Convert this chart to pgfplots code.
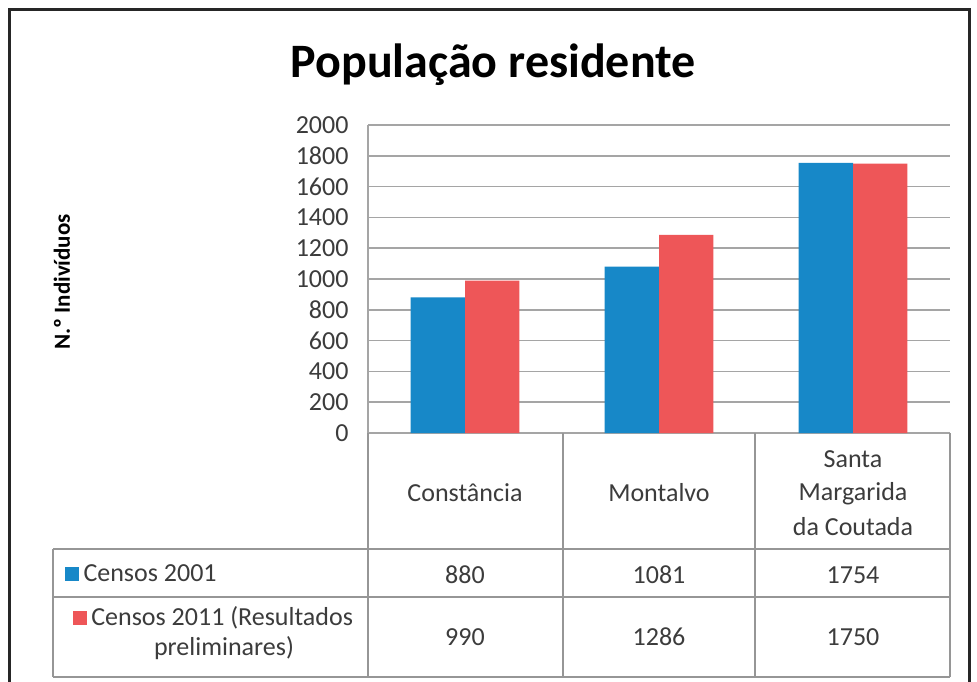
\documentclass[border=0pt]{standalone}
\usepackage{pgfplots}
\pgfplotsset{compat=1.18}
\usepackage{fontspec}
\setmainfont{Carlito}
\definecolor{cblue}{RGB}{23,136,200}
\definecolor{cred}{RGB}{238,86,88}
\definecolor{gridc}{RGB}{165,165,165}
\definecolor{tblc}{RGB}{150,150,150}
\definecolor{txt}{RGB}{60,60,60}
\newcommand\tf{\fontsize{26}{30}\selectfont\color{txt}}
\begin{document}
\begin{tikzpicture}
\useasboundingbox (0,0) rectangle (977pt,-682pt);
\fill[white] (0,0) rectangle (977pt,-682pt);
\draw[line width=3pt, black!85] (9pt,-700pt) -- (9pt,-10pt) -- (969pt,-10pt) -- (969pt,-700pt);
\begin{axis}[at={(368pt,-433pt)}, anchor=south west, scale only axis,
  width=582pt, height=308pt,
  xmin=-0.5, xmax=2.5, ymin=0, ymax=2000,
  ytick={0,200,...,2000}, xtick=\empty,
  axis lines*=left,
  axis line style={gridc, line width=1.5pt},
  ymajorgrids, grid style={gridc, line width=1.5pt},
  major tick length=0pt,
  yticklabel style={font=\fontsize{26}{30}\selectfont, text=txt, xshift=-16pt},
  /pgf/number format/assume math mode=true,
  /pgf/number format/1000 sep={},
  title={População residente},
  title style={font=\fontsize{48}{52}\selectfont\bfseries, at={(axis description cs:0.215,1.135)}, anchor=base},
  ylabel={N.º Indivíduos},
  every axis y label/.style={at={(axis description cs:-0.526,0.49)}, rotate=90, anchor=center, font=\fontsize{23}{26}\selectfont\bfseries},
  clip=false,
]
\addplot[ybar, bar width=0.28, bar shift=-0.14, fill=cblue, draw=none] coordinates {(0,880) (1,1081) (2,1754)};
\addplot[ybar, bar width=0.28, bar shift=0.14, fill=cred, draw=none] coordinates {(0,990) (1,1286) (2,1750)};
\end{axis}
% data table
\begin{scope}[tblc, line width=1.5pt]
\draw (368pt,-433pt) -- (368pt,-677pt);
\draw (563pt,-433pt) -- (563pt,-677pt);
\draw (755pt,-433pt) -- (755pt,-677pt);
\draw (950pt,-433pt) -- (950pt,-677pt);
\draw (53pt,-549pt) -- (53pt,-677pt);
\draw (53pt,-549pt) -- (950pt,-549pt);
\draw (53pt,-597pt) -- (950pt,-597pt);
\draw (53pt,-677pt) -- (950pt,-677pt);
\end{scope}
\begin{scope}[every node/.style={inner sep=0pt, anchor=base, font=\tf}]
\node at (465pt,-501pt) {Constância};
\node at (659pt,-501pt) {Montalvo};
\node at (853pt,-467pt) {Santa};
\node at (853pt,-500pt) {Margarida};
\node at (853pt,-535pt) {da Coutada};
\node at (465pt,-583pt) {880};
\node at (659pt,-583pt) {1081};
\node at (853pt,-583pt) {1754};
\node at (465pt,-645pt) {990};
\node at (659pt,-645pt) {1286};
\node at (853pt,-645pt) {1750};
\node[anchor=base west] at (65pt,-581pt) {\textcolor{cblue}{\rule{14pt}{14pt}}\,Censos 2001};
\node at (213pt,-625pt) {\textcolor{cred}{\rule{14pt}{14pt}}\,Censos 2011 (Resultados};
\node at (224pt,-655pt) {preliminares)};
\end{scope}
\end{tikzpicture}
\end{document}
